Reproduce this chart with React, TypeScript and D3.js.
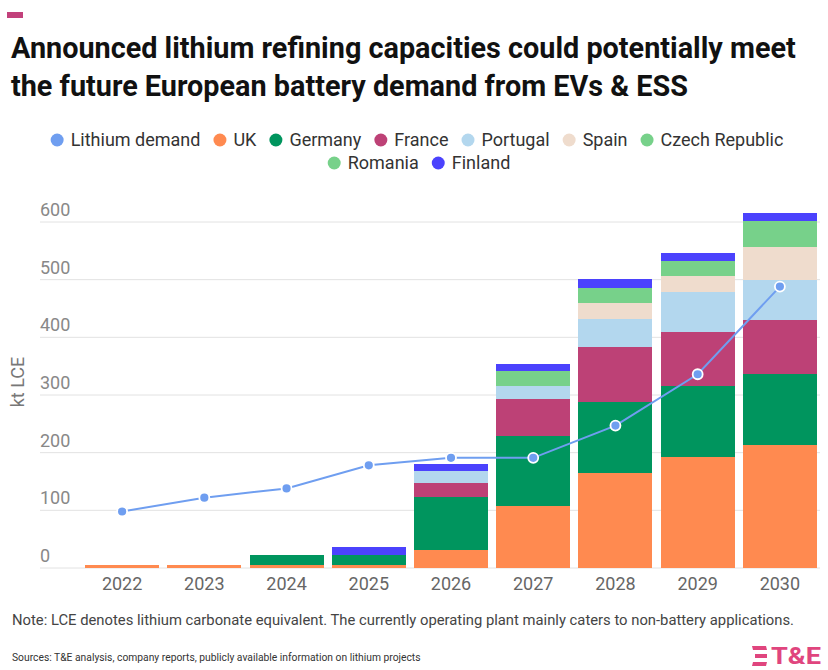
import * as d3 from "d3";

const years = ["2022", "2023", "2024", "2025", "2026", "2027", "2028", "2029", "2030"];
const countries = ["UK", "Germany", "France", "Portugal", "Spain", "Czech Republic", "Romania", "Finland"];
const uk = [5, 5, 5, 5, 32, 107, 164, 192, 214];
const germany = [0, 0, 17, 17, 91, 122, 123, 123, 122];
const france = [0, 0, 0, 0, 24, 64, 96, 94, 94];
const portugal = [0, 0, 0, 0, 21, 22, 48, 69, 69];
const spain = [0, 0, 0, 0, 0, 0, 29, 29, 57];
const czech = [0, 0, 0, 0, 0, 26, 26, 26, 26];
const romania = [0, 0, 0, 0, 0, 0, 0, 0, 20];
const finland = [0, 0, 0, 14, 13, 13, 15, 14, 13];
const demand = [98, 122, 138, 178, 191, 191, 247, 336, 488];
const yTicks = [0, 100, 200, 300, 400, 500, 600];

const colors: Record<string, string> = {
  "Lithium demand": "#6f9ef0",
  UK: "#ff8a50",
  Germany: "#00955e",
  France: "#bd4176",
  Portugal: "#b3d7ee",
  Spain: "#efdccd",
  "Czech Republic": "#77d18a",
  Romania: "#77d18a",
  Finland: "#4b42fd",
};

const seriesValues = [uk, germany, france, portugal, spain, czech, romania, finland];

let ctx: CanvasRenderingContext2D | null = null;
const measure = (t: string, font: string) => {
  if (!ctx) ctx = document.createElement("canvas").getContext("2d");
  if (!ctx) return t.length * 9;
  ctx.font = font;
  return ctx.measureText(t).width;
};

const Legend = ({ items, y, cx }: { items: string[]; y: number; cx: number }) => {
  const font = "18px Roboto";
  const r = 6.5;
  const widths = items.map((d) => 2 * r + 7 + measure(d, font));
  const gap = 13;
  const total = d3.sum(widths) + gap * (items.length - 1);
  let x = cx - total / 2;
  return (
    <g>
      {items.map((d, i) => {
        const x0 = x;
        x += widths[i] + gap;
        return (
          <g key={d}>
            <circle cx={x0 + r} cy={y} r={r} fill={colors[d]} />
            <text x={x0 + 2 * r + 7} y={y + 6} fontSize={18} fill="#333">
              {d}
            </text>
          </g>
        );
      })}
    </g>
  );
};

export default function App() {
  const width = 828;
  const height = 670;

  const x = d3.scaleBand().domain(years).range([81, 821]).paddingInner(0.1).paddingOuter(0.05);
  const y = d3.scaleLinear().domain([0, 600]).range([568, 222]);

  const table = years.map((yr, i) => {
    const row: Record<string, any> = { year: yr };
    countries.forEach((c, j) => (row[c] = seriesValues[j][i]));
    return row;
  });
  const stacked = d3.stack().keys(countries)(table as any);

  const line = d3
    .line<number>()
    .x((_, i) => (x(years[i]) ?? 0) + x.bandwidth() / 2)
    .y((d) => y(d));

  return (
    <svg width={width} height={height} style={{ display: "block", position: "absolute", left: 0, top: 0, fontFamily: "Roboto, sans-serif" }}>
      <rect width={width} height={height} fill="#fff" />
      <rect x={7} y={12} width={16} height={6} fill="#c2417b" />
      <text x={11} y={58} fontSize={28.8} fontWeight={700} fill="#111">
        Announced lithium refining capacities could potentially meet
      </text>
      <text x={11} y={96} fontSize={28.8} fontWeight={700} fill="#111">
        the future European battery demand from EVs &amp; ESS
      </text>

      <Legend items={["Lithium demand", "UK", "Germany", "France", "Portugal", "Spain", "Czech Republic"]} y={140} cx={417} />
      <Legend items={["Romania", "Finland"]} y={163} cx={419} />

      {yTicks.map((t) => (
        <g key={t}>
          <line x1={40} x2={820} y1={y(t)} y2={y(t)} stroke="#e2e2e2" strokeWidth={1} />
          <text x={40} y={y(t) - 6} fontSize={18} fill="#888">
            {t}
          </text>
        </g>
      ))}
      <text transform="translate(24,382) rotate(-90)" textAnchor="middle" fontSize={18} fill="#777">
        kt LCE
      </text>

      {stacked.map((s) => (
        <g key={s.key} fill={colors[s.key]} shapeRendering="crispEdges">
          {s.map((d, i) =>
            d[1] - d[0] > 0 ? (
              <rect
                key={i}
                x={x(years[i])}
                y={y(d[1])}
                width={x.bandwidth()}
                height={y(d[0]) - y(d[1])}
              />
            ) : null
          )}
        </g>
      ))}

      {years.map((yr) => (
        <text key={yr} x={(x(yr) ?? 0) + x.bandwidth() / 2} y={590} textAnchor="middle" fontSize={18} fill="#666">
          {yr}
        </text>
      ))}

      <path d={line(demand) ?? ""} fill="none" stroke={colors["Lithium demand"]} strokeWidth={2} />
      {demand.map((d, i) => (
        <circle
          key={i}
          cx={(x(years[i]) ?? 0) + x.bandwidth() / 2}
          cy={y(d)}
          r={5}
          fill={colors["Lithium demand"]}
          stroke="#fff"
          strokeWidth={1.8}
        />
      ))}

      <text x={12} y={625} fontSize={14.8} fill="#444">
        Note: LCE denotes lithium carbonate equivalent. The currently operating plant mainly caters to non-battery applications.
      </text>
      <text x={12} y={661} fontSize={10.3} fill="#333">
        Sources: T&amp;E analysis, company reports, publicly available information on lithium projects
      </text>

      <g fill="#e0457e">
        <polygon points="752,646 766,646 767,650 753,650" />
        <polygon points="755,654 767,654 767,658 755,658" />
        <polygon points="753,662 767,662 766,666 752,666" />
        <text x={771} y={664} fontSize={24} fontWeight={700} textLength={50} lengthAdjust="spacingAndGlyphs">
          T&amp;E
        </text>
      </g>
    </svg>
  );
}
